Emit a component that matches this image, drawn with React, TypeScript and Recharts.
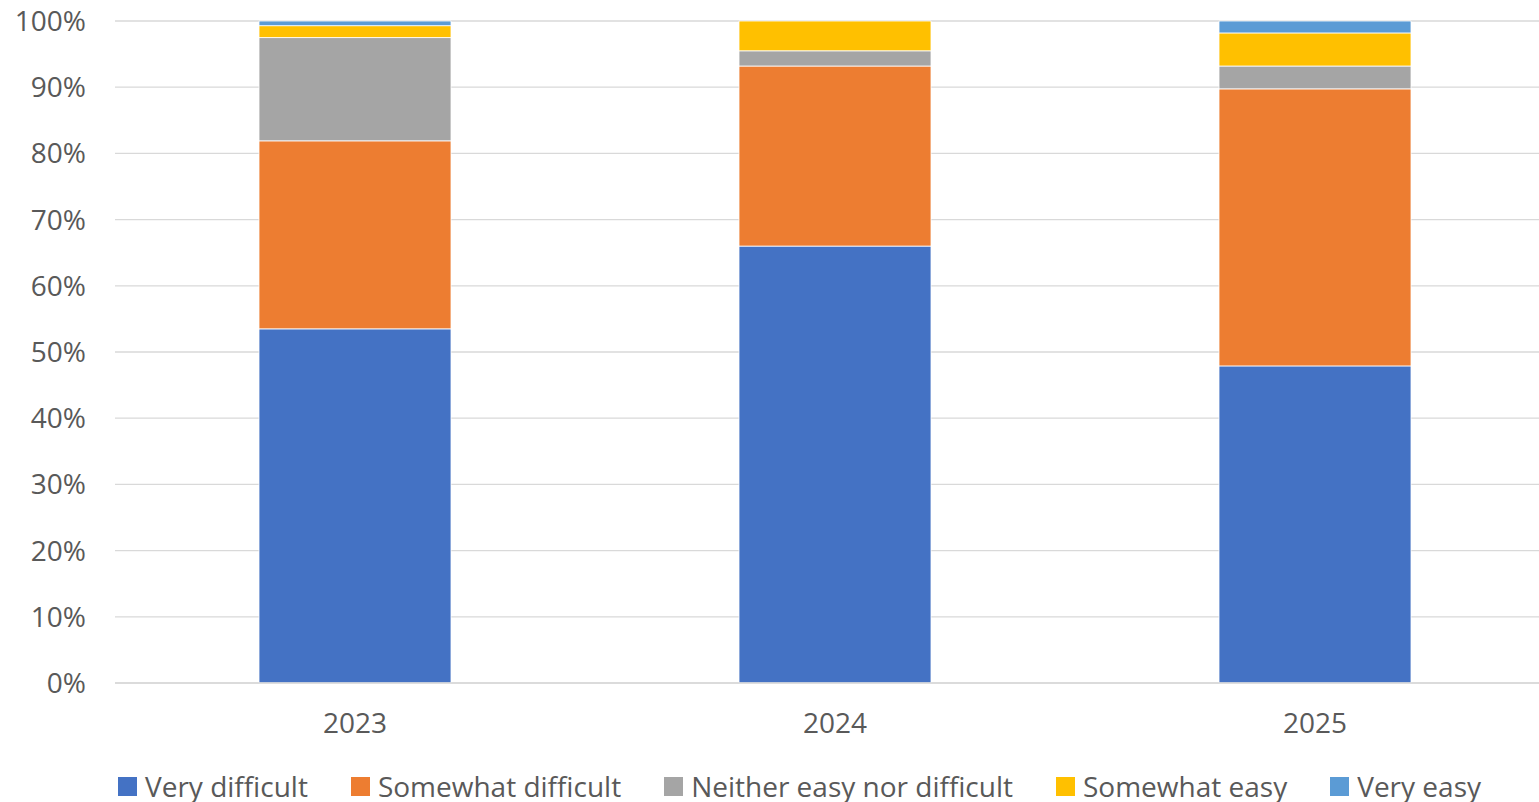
import React from "react";
import { BarChart, Bar, XAxis, YAxis, CartesianGrid, Legend } from "recharts";

const years = ["2023", "2024", "2025"];
const veryDifficult = [53.5, 66.0, 47.9];
const somewhatDifficult = [28.4, 27.2, 41.85];
const neither = [15.6, 2.3, 3.45];
const somewhatEasy = [1.8, 4.5, 5.0];
const veryEasy = [0.7, 0.0, 1.8];
const yTicks = [0, 10, 20, 30, 40, 50, 60, 70, 80, 90, 100];

const seriesNames = ["Very difficult", "Somewhat difficult", "Neither easy nor difficult", "Somewhat easy", "Very easy"];
const seriesColors = ["#4472C4", "#ED7D31", "#A5A5A5", "#FFC000", "#5B9BD5"];
const seriesKeys = ["vd", "sd", "ne", "se", "ve"];

const data = years.map((y, i) => ({
  year: y,
  vd: veryDifficult[i],
  sd: somewhatDifficult[i],
  ne: neither[i],
  se: somewhatEasy[i],
  ve: veryEasy[i],
}));

const FONT = "'Open Sans', sans-serif";
const TEXT = "#595959";
const FS = 28;

const LegendContent = () => {
  return (
    <div style={{ display: "flex", justifyContent: "flex-start", alignItems: "center", height: 30, fontFamily: FONT, fontSize: FS, lineHeight: "30px", color: TEXT, whiteSpace: "nowrap" }}>
      {seriesNames.map((n, i) => (
        <div key={n} style={{ display: "flex", alignItems: "center", marginRight: 43 }}>
          <div style={{ width: 19, height: 19, background: seriesColors[i], marginRight: 8 }} />
          <span>{n}</span>
        </div>
      ))}
    </div>
  );
};

export default function App() {
  return (
    <div style={{ position: "absolute", top: 0, left: 0, width: 1539, height: 802, overflow: "hidden", background: "#fff" }}>
      <BarChart
        width={1555}
        height={802}
        data={data}
        margin={{ top: 21, right: 0, left: 0, bottom: 59 }}
        barSize={192}
      >
        <CartesianGrid vertical={false} stroke="#D9D9D9" strokeWidth={1.3} />
        <XAxis
          dataKey="year"
          axisLine={{ stroke: "#D9D9D9", strokeWidth: 1.3 }}
          tickLine={false}
          tickMargin={24}
          tick={{ fill: TEXT, fontSize: FS, fontFamily: FONT }}
        />
        <YAxis
          width={115}
          domain={[0, 100]}
          ticks={yTicks}
          tickFormatter={(v: number) => `${v}%`}
          axisLine={false}
          tickLine={false}
          tickMargin={23}
          tick={{ fill: TEXT, fontSize: FS, fontFamily: FONT }}
        />
        <Legend
          verticalAlign="bottom"
          content={<LegendContent />}
          wrapperStyle={{ left: 118, top: 771, bottom: "auto", width: 1500, height: 30 }}
        />
        {seriesKeys.map((k, i) => (
          <Bar
            key={k}
            dataKey={k}
            name={seriesNames[i]}
            stackId="a"
            fill={seriesColors[i]}
            stroke="#ffffff"
            strokeWidth={0.8}
            isAnimationActive={false}
          />
        ))}
      </BarChart>
    </div>
  );
}
